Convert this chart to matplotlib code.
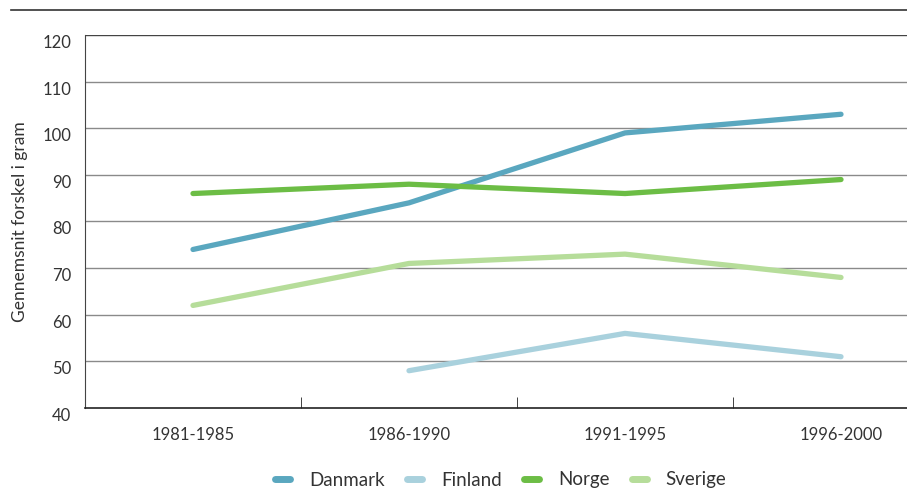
import numpy as np
import matplotlib.pyplot as plt
from matplotlib.lines import Line2D

periods = ['1981-1985', '1986-1990', '1991-1995', '1996-2000']
danmark = [74, 84, 99, 103]
finland = [np.nan, 48, 56, 51]
norge = [86, 88, 86, 89]
sverige = [62, 71, 73, 68]

series = [('Danmark', danmark, '#5aa7bf'),
          ('Finland', finland, '#a9d1dd'),
          ('Norge', norge, '#6cbd45'),
          ('Sverige', sverige, '#b6dd9a')]

plt.rcParams['font.family'] = ['Lato', 'DejaVu Sans']
txt = '#333333'

fig = plt.figure(figsize=(9.07, 4.95), dpi=100)
W, H = 907, 495
# axes extends beyond the right edge, as in the reference
ax = fig.add_axes([85 / W, (H - 408) / H, 864 / W, 373 / H])

x = np.arange(len(periods))
for name, vals, col in series:
    ax.plot(x, vals, color=col, lw=3.8, solid_capstyle='round', label=name, zorder=3)

ax.set_xlim(-0.5, 3.5)
ax.set_ylim(40, 120)
ax.set_yticks(range(40, 121, 10))
for v in range(50, 120, 10):
    ax.axhline(v, color='#8a8a8a', lw=1.0, zorder=1)
ax.axhline(120, color='#444444', lw=1.0, zorder=1)

for s in ['top', 'right']:
    ax.spines[s].set_visible(False)
ax.spines['left'].set_color('#444444')
ax.spines['bottom'].set_color('#222222')
ax.spines['bottom'].set_linewidth(1.2)

ax.set_xticks(x)
ax.set_xticklabels(periods)
ax.set_xticks([0.5, 1.5, 2.5], minor=True)
ax.tick_params(axis='x', which='major', length=0, pad=14, labelsize=12, labelcolor=txt)
ax.tick_params(axis='x', which='minor', direction='in', length=8, color='#222222')
ax.tick_params(axis='y', length=0, pad=10, labelsize=12, labelcolor=txt)
for lab in ax.get_yticklabels():
    lab.set_verticalalignment('top')

ax.set_ylabel('Gennemsnit forskel i gram', fontsize=12.5, color=txt, labelpad=10)

# rule along the top of the figure
fig.add_artist(Line2D([11 / W, 1], [1 - 10 / H, 1 - 10 / H], color='#333333', lw=1.2))

handles = [Line2D([0], [0], color=c, lw=5, solid_capstyle='round') for _, _, c in series]
fig.legend(handles, [n for n, _, _ in series], loc='center', bbox_to_anchor=(501 / W, 1 - 480 / H),
           ncol=4, frameon=False, fontsize=13.5, handlelength=0.8, columnspacing=1.2,
           handletextpad=1.0, labelcolor=txt)

fig.savefig('out.png', dpi=100)
